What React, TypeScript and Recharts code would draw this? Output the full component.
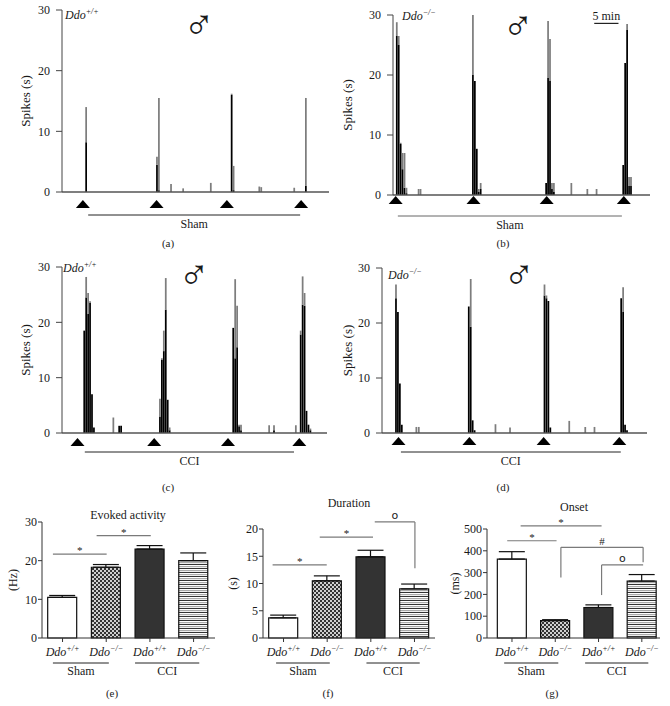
import React from "react";
import { BarChart, Bar, XAxis, YAxis, ReferenceLine, ErrorBar, Cell } from "recharts";

const SERIF = '"Liberation Serif", "DejaVu Serif", serif';
const INK = "#1a1a1a";

// spike histograms: bin time (min), black body and grey peak (spikes/s)
const aTimes = [5.0, 19.6, 20.0, 22.5, 25.0, 30.7, 35.0, 35.4, 40.7, 41.1, 47.9, 50.3];
const aBlack = [8.2, 4.5, 0.3, 0, 0, 0, 16.0, 0.3, 0, 0, 0, 1.0];
const aGray = [14.0, 5.8, 15.5, 1.3, 0.6, 1.5, 16.2, 4.3, 0.9, 0.8, 0.7, 15.5];
const aStim = [4.3, 19.5, 34.0, 49.3];
const aSpan = [5.4, 49.1];

const bTimes = [0.8, 1.2, 1.6, 2.0, 2.4, 2.8, 5.3, 5.7, 16.5, 16.9, 17.3, 17.7, 18.1, 31.6, 32.0, 32.4, 32.8, 33.2, 36.8, 40.1, 42.0, 47.5, 47.9, 48.3, 48.7, 49.1];
const bBlack = [26.5, 25, 8.5, 4.3, 1.2, 0.3, 0, 0, 20, 19, 7.7, 0.5, 1, 2, 19.5, 19, 1, 0.5, 0, 0, 0, 5, 22, 27.5, 1.5, 1.5];
const bGray = [28.8, 26.5, 8.7, 7, 7, 1.2, 1, 1, 30, 19, 7.7, 1, 2, 2, 29, 26, 2, 2, 2, 1, 1, 5, 22, 28.5, 3, 3];
const bStim = [0.55, 16.6, 31.7, 47.6];
const bSpan = [1.0, 47.2];

const cTimes = [4.6, 5.0, 5.4, 5.8, 6.2, 6.6, 10.6, 11.8, 12.2, 20.2, 20.6, 21.0, 21.4, 21.8, 22.2, 35.3, 35.7, 36.1, 36.5, 36.9, 42.7, 43.7, 48.2, 49.2, 49.6, 50.0, 50.4, 50.8, 51.2];
const cBlack = [18.5, 24.5, 21.5, 23.5, 7, 1, 0, 1.3, 1.3, 3, 13.2, 14.8, 22.3, 6, 0.5, 19, 13.5, 15.5, 1.2, 0.5, 0, 0.5, 0, 17.8, 23.2, 23, 4, 1.5, 0.5];
const cGray = [18.5, 28.2, 25.3, 23.8, 7, 1, 2.8, 1.3, 1.3, 6.2, 13.5, 18.5, 28, 6, 1, 19, 27.8, 23, 1.5, 1.5, 1.4, 1.4, 1.4, 18.5, 28.3, 25.3, 4, 1.5, 0.8];
const cStim = [3.2, 19.0, 34.2, 48.9];
const cSpan = [4.7, 47.8];

const dTimes = [2.9, 3.3, 3.7, 4.1, 7.1, 7.6, 17.9, 18.3, 18.7, 19.1, 23.4, 26.4, 33.5, 33.9, 34.3, 34.7, 38.6, 41.9, 43.8, 49.3, 49.7, 50.1, 50.5];
const dBlack = [24.5, 22, 9, 1.5, 0, 0, 23, 19.3, 2.3, 0.5, 0, 0, 25, 24.5, 24, 1, 0, 0, 0, 24.5, 22, 1.5, 0.5];
const dGray = [27, 22, 9, 1.5, 1.1, 1.1, 23, 28, 2.3, 0.5, 1.6, 1, 27, 25, 24, 1, 2.2, 1.1, 1.1, 24.5, 26.5, 1.5, 0.5];
const dStim = [3.4, 18.0, 33.3, 48.9];
const dSpan = [3.9, 49.2];

const spikeTicks = [0, 10, 20, 30];

// summary bars
const genotypes = ["+/+", "\u2212/\u2212", "+/+", "\u2212/\u2212"];
const groups = ["Sham", "CCI"];
const evokedMean = [10.5, 18.3, 23.0, 20.0];
const evokedSem = [0.5, 0.7, 0.9, 2.0];
const durationMean = [3.7, 10.5, 14.9, 9.0];
const durationSem = [0.5, 0.9, 1.2, 0.9];
const onsetMean = [362, 80, 140, 261];
const onsetSem = [34, 4, 12, 30];

type Seg = { x1: number; x2: number; y1: number; y2: number; mark?: string };
const evokedSig: Seg[] = [
  { x1: -0.22, x2: 1.01, y1: 21.7, y2: 21.7, mark: "*" },
  { x1: 0.78, x2: 2.02, y1: 26.5, y2: 26.5, mark: "*" },
];
const durationSig: Seg[] = [
  { x1: -0.25, x2: 0.99, y1: 13.4, y2: 13.4, mark: "*" },
  { x1: 0.83, x2: 2.05, y1: 18.5, y2: 18.5, mark: "*" },
  { x1: 2.09, x2: 3.01, y1: 21.3, y2: 21.3, mark: "o" },
  { x1: 3.01, x2: 3.01, y1: 21.3, y2: 12.8 },
];
const onsetSig: Seg[] = [
  { x1: 0.2, x2: 2.07, y1: 514, y2: 514, mark: "*" },
  { x1: -0.11, x2: 1.03, y1: 446, y2: 446, mark: "*" },
  { x1: 1.13, x2: 3.03, y1: 416, y2: 416, mark: "#" },
  { x1: 1.13, x2: 1.13, y1: 416, y2: 277 },
  { x1: 3.03, x2: 3.03, y1: 416, y2: 347 },
  { x1: 2.07, x2: 3.03, y1: 335, y2: 335, mark: "o" },
  { x1: 2.07, x2: 2.07, y1: 335, y2: 197 },
];

const barFills = ["#ffffff", "url(#chk)", "#333333", "url(#str)"];

const Abs = ({ x, y, size = 12, italic, align = "center", family = SERIF, weight = 400, lh = 1, children }: any) => (
  <div
    style={{
      position: "absolute",
      left: x,
      top: y,
      transform: align === "center" ? "translate(-50%, -50%)" : "translate(0, -50%)",
      fontFamily: family,
      fontSize: size,
      fontWeight: weight,
      fontStyle: italic ? "italic" : "normal",
      color: INK,
      whiteSpace: "nowrap",
      lineHeight: lh,
    }}
  >
    {children}
  </div>
);

const Geno = ({ x, y, g }: any) => (
  <Abs x={x} y={y} italic align="left" size={12}>
    Ddo<span style={{ fontSize: 8, position: "relative", top: -5 }}>{g}</span>
  </Abs>
);

const Male = ({ x, y }: any) => (
  <Abs x={x} y={y} size={42} lh="26px" weight={200} family='"DejaVu Sans ExtraLight", "DejaVu Sans", sans-serif'>
    {"\u2642"}
  </Abs>
);

function Histogram(p: any) {
  const data = p.times.map((t: number, i: number) => ({ t, black: p.black[i], gray: p.gray[i] }));
  const plotH = p.height - p.margin.top - p.margin.bottom - 30;
  const groupY = (-30 * p.groupDrop) / plotH;
  const tri = (props: any) => {
    const { x, y } = props;
    const top = y - 8 + p.triOff;
    return <path d={`M${x - 7},${top + 8} L${x + 7},${top + 8} L${x},${top} Z`} fill="#000" />;
  };
  return (
    <div style={{ position: "absolute", left: p.left, top: p.top }}>
      <BarChart width={p.width} height={p.height} data={data} margin={p.margin}>
        <XAxis
          type="number"
          dataKey="t"
          domain={[0, p.tMax]}
          allowDataOverflow
          ticks={p.stim}
          interval={0}
          tick={tri}
          tickLine={false}
          tickSize={6}
          tickMargin={2}
          axisLine={{ stroke: "#555", strokeWidth: 1.5 }}
          height={30}
        />
        <YAxis
          domain={[0, 30]}
          ticks={spikeTicks}
          interval={0}
          width={50}
          tickSize={6}
          tickMargin={6}
          tick={{ fontSize: 12, fontFamily: SERIF, fill: INK }}
          tickLine={{ stroke: "#444" }}
          axisLine={{ stroke: "#444" }}
          label={{
            value: "Spikes (s)",
            angle: -90,
            position: "insideLeft",
            offset: p.labelOffset,
            style: { textAnchor: "middle", fontSize: 13, fontFamily: SERIF, fill: INK },
          }}
        />
        <Bar dataKey="black" stackId="h" fill="#000" barSize={2} isAnimationActive={false} />
        <Bar
          dataKey={(d: any) => Math.max(0, d.gray - d.black)}
          stackId="h"
          fill="#7d7d7d"
          barSize={2}
          isAnimationActive={false}
        />
        <ReferenceLine
          segment={[
            { x: p.span[0], y: groupY },
            { x: p.span[1], y: groupY },
          ]}
          ifOverflow="visible"
          stroke={p.spanColor}
          strokeWidth={1}
          label={{ value: p.group, position: "bottom", offset: 4, fill: INK, fontSize: 12, fontFamily: SERIF }}
        />
        {p.scaleBar && (
          <ReferenceLine
            segment={[
              { x: 41.5, y: 28.6 },
              { x: 46.5, y: 28.6 },
            ]}
            ifOverflow="visible"
            stroke="#222"
            strokeWidth={1.2}
            label={{ value: "5 min", position: "top", offset: 3, fill: INK, fontSize: 12, fontFamily: SERIF }}
          />
        )}
      </BarChart>
    </div>
  );
}

const GenoTick = (props: any) => {
  const { x, y, payload } = props;
  return (
    <text x={x} y={y + 12} textAnchor="middle" fontFamily={SERIF} fontSize={12} fontStyle="italic" fill={INK}>
      Ddo
      <tspan dy={-5} fontSize={8}>
        {genotypes[payload.value]}
      </tspan>
    </text>
  );
};

function StatBars(p: any) {
  const data = p.means.map((m: number, i: number) => ({ i, m, e: [0, p.sems[i]] }));
  const plotH = p.height - p.margin.top - p.margin.bottom - 40;
  const gy = (-p.yMax * 25) / plotH;
  return (
    <div style={{ position: "absolute", left: p.left, top: p.top }}>
      <BarChart width={p.width} height={p.height} data={data} margin={p.margin}>
        <defs>
          <pattern id="chk" width="4" height="4" patternUnits="userSpaceOnUse">
            <rect width="4" height="4" fill="#cfcfcf" />
            <rect width="2" height="2" fill="#333" />
            <rect x="2" y="2" width="2" height="2" fill="#333" />
          </pattern>
          <pattern id="str" width="4" height="4" patternUnits="userSpaceOnUse">
            <rect width="4" height="4" fill="#fff" />
            <rect y="0" width="4" height="1" fill="#333" />
            <rect y="2" width="4" height="1.2" fill="#aaa" />
          </pattern>
        </defs>
        <XAxis
          type="number"
          dataKey="i"
          domain={p.xDomain}
          allowDataOverflow
          ticks={[0, 1, 2, 3]}
          interval={0}
          tick={GenoTick}
          tickSize={4}
          tickMargin={2}
          tickLine={{ stroke: "#333" }}
          axisLine={{ stroke: "#333" }}
          height={40}
        />
        <YAxis
          domain={[0, p.yMax]}
          ticks={p.yTicks}
          interval={0}
          width={p.yWidth}
          tickSize={4}
          tickMargin={1}
          tick={{ fontSize: 12, fontFamily: SERIF, fill: INK }}
          tickLine={{ stroke: "#333" }}
          axisLine={{ stroke: "#333" }}
          label={{
            value: p.yLabel,
            angle: -90,
            position: "insideLeft",
            offset: p.labelOffset,
            style: { textAnchor: "middle", fontSize: 12, fontFamily: SERIF, fill: INK },
          }}
        />
        <Bar dataKey="m" barSize={29} stroke="#111" strokeWidth={1.2} isAnimationActive={false}>
          {data.map((_: any, i: number) => (
            <Cell key={i} fill={barFills[i]} />
          ))}
          <ErrorBar dataKey="e" width={13} stroke="#111" strokeWidth={1.2} isAnimationActive={false} />
        </Bar>
        {p.groupSpans.map((s: number[], k: number) => (
          <ReferenceLine
            key={"g" + k}
            segment={[
              { x: s[0], y: gy },
              { x: s[1], y: gy },
            ]}
            ifOverflow="visible"
            stroke="#222"
            label={{ value: groups[k], position: "bottom", offset: 3, fill: INK, fontSize: 12, fontFamily: SERIF }}
          />
        ))}
        {p.sig.map((s: Seg, k: number) => (
          <ReferenceLine
            key={"s" + k}
            segment={[
              { x: s.x1, y: s.y1 },
              { x: s.x2, y: s.y2 },
            ]}
            ifOverflow="visible"
            stroke="#7a7a7a"
            strokeWidth={1.2}
            label={
              s.mark
                ? {
                    value: s.mark,
                    position: "top",
                    offset: s.mark === "o" ? 3 : s.mark === "#" ? 2 : 0,
                    fill: INK,
                    fontSize: 11,
                    fontFamily: s.mark === "o" ? '"DejaVu Sans", sans-serif' : SERIF,
                  }
                : undefined
            }
          />
        ))}
      </BarChart>
    </div>
  );
}

export default function App() {
  return (
    <div style={{ position: "absolute", left: 0, top: 0, width: 670, height: 706, background: "#fff", overflow: "hidden" }}>
      <Histogram
        left={0} top={0} width={340} height={250}
        margin={{ top: 10, right: 11, left: 12, bottom: 28 }}
        times={aTimes} black={aBlack} gray={aGray} stim={aStim} span={aSpan}
        tMax={55.05} groupDrop={23} labelOffset={13} triOff={8} group="Sham" spanColor="#222"
      />
      <Histogram
        left={330} top={0} width={340} height={250}
        margin={{ top: 15, right: 20, left: 13, bottom: 25 }}
        times={bTimes} black={bBlack} gray={bGray} stim={bStim} span={bSpan}
        tMax={53.0} groupDrop={21} labelOffset={4} triOff={1} group="Sham" spanColor="#666" scaleBar
      />
      <Histogram
        left={0} top={250} width={340} height={240}
        margin={{ top: 17, right: 13, left: 12, bottom: 27 }}
        times={cTimes} black={cBlack} gray={cGray} stim={cStim} span={cSpan}
        tMax={54.6} groupDrop={19} labelOffset={13} triOff={5} group="CCI" spanColor="#222"
      />
      <Histogram
        left={330} top={250} width={340} height={240}
        margin={{ top: 18, right: 23, left: 2, bottom: 27 }}
        times={dTimes} black={dBlack} gray={dGray} stim={dStim} span={dSpan}
        tMax={54.6} groupDrop={19} labelOffset={15} triOff={4} group="CCI" spanColor="#222"
      />

      <StatBars
        left={0} top={480} width={225} height={226}
        margin={{ top: 42, right: 10, left: 0, bottom: 28 }}
        means={evokedMean} sems={evokedSem} yMax={30} yTicks={[0, 10, 20, 30]} yWidth={42}
        yLabel="(Hz)" labelOffset={13} xDomain={[-0.47, 3.49]}
        groupSpans={[[-0.22, 1.06], [1.66, 3.13]]} sig={evokedSig}
      />
      <StatBars
        left={220} top={480} width={225} height={226}
        margin={{ top: 49, right: 10, left: 0, bottom: 28 }}
        means={durationMean} sems={durationSem} yMax={20} yTicks={[0, 5, 10, 15, 20]} yWidth={43}
        yLabel="(s)" labelOffset={13} xDomain={[-0.47, 3.47]}
        groupSpans={[[-0.17, 1.06], [1.9, 3.12]]} sig={durationSig}
      />
      <StatBars
        left={440} top={480} width={230} height={226}
        margin={{ top: 49, right: 10, left: 0, bottom: 28 }}
        means={onsetMean} sems={onsetSem} yMax={500} yTicks={[0, 100, 200, 300, 400, 500]} yWidth={47}
        yLabel="(ms)" labelOffset={15} xDomain={[-0.577, 3.42]}
        groupSpans={[[-0.18, 1.07], [1.69, 3.15]]} sig={onsetSig}
      />

      <Geno x={65} y={15} g="+/+" />
      <Geno x={402} y={16} g={"\u2212/\u2212"} />
      <Geno x={63} y={268} g="+/+" />
      <Geno x={388} y={275} g={"\u2212/\u2212"} />

      <Male x={199} y={25} />
      <Male x={518} y={26} />
      <Male x={194} y={275} />
      <Male x={519} y={275} />

      <Abs x={128} y={515}>Evoked activity</Abs>
      <Abs x={349} y={503}>Duration</Abs>
      <Abs x={574} y={507}>Onset</Abs>

      <Abs x={168} y={243} size={11}>(a)</Abs>
      <Abs x={503} y={243} size={11}>(b)</Abs>
      <Abs x={168} y={487} size={11}>(c)</Abs>
      <Abs x={503} y={487} size={11}>(d)</Abs>
      <Abs x={112} y={693} size={11}>(e)</Abs>
      <Abs x={328} y={693} size={11}>(f)</Abs>
      <Abs x={552} y={693} size={11}>(g)</Abs>
    </div>
  );
}
